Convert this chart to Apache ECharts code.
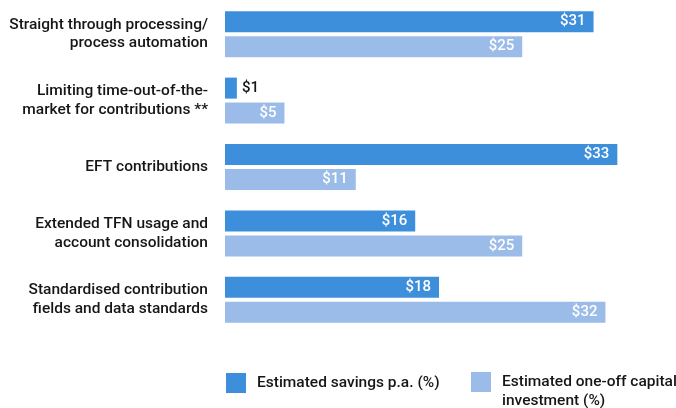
<!DOCTYPE html>
<html><head><meta charset="utf-8">
<script src="https://cdn.jsdelivr.net/npm/echarts@6/dist/echarts.min.js"></script>
<style>html,body{margin:0;padding:0;background:#fff}#c{width:676px;height:408px}</style>
</head><body><div id="c"></div>
<script>
var categories = [
  "Straight through processing/\nprocess automation",
  "Limiting time-out-of-the-\nmarket for contributions **",
  "EFT contributions",
  "Extended TFN usage and\naccount consolidation",
  "Standardised contribution\nfields and data standards"
];
var seriesNames = ["Estimated savings p.a. (%)", "Estimated one-off capital investment (%)"];
var legendLines = ["Estimated one-off capital", "investment (%)"];
var savings = [31, 1, 33, 16, 18];
var investment = [25, 5, 11, 25, 32];
var colors = ["#3d8fdc", "#9bbbe8"];

var font = "Roboto";
var textColor = "#161616";
function mkData(arr) {
  return arr.map(function (v) {
    if (v < 3) return { value: v, label: { position: "right", color: textColor, distance: 5 } };
    return v;
  });
}
var chart = echarts.init(document.getElementById("c"));
chart.setOption({
  animation: false,
  grid: { left: 225, right: 23, top: 1, height: 332 },
  xAxis: { type: "value", min: 0, max: 36, show: false },
  yAxis: {
    type: "category", data: categories, inverse: true,
    axisLine: { show: false }, axisTick: { show: false },
    axisLabel: { margin: 17, fontFamily: font, fontSize: 15.5, fontWeight: 500, color: textColor, lineHeight: 18.5, align: "right", padding: [4, 0, 0, 0] }
  },
  legend: [{
    data: [seriesNames[0]], left: 226, top: 373, padding: 0, itemWidth: 20, itemHeight: 20, icon: "rect",
    textStyle: { fontFamily: font, fontSize: 15.5, fontWeight: 500, color: textColor, padding: [0, 0, 0, 6] }
  }, {
    data: [seriesNames[1]], left: 471, top: 372, padding: 0, itemWidth: 20, itemHeight: 20, icon: "rect",
    formatter: function () { return legendLines[0]; },
    textStyle: { fontFamily: font, fontSize: 15.5, fontWeight: 500, color: textColor, padding: [0, 0, 0, 6] }
  }],
  graphic: [{
    type: "text", left: 502, top: 393,
    style: { text: legendLines[1], font: "500 15.5px Roboto", fill: textColor }
  }],
  series: [{
    name: seriesNames[0], type: "bar", data: mkData(savings), barWidth: 21, barGap: "19%",
    itemStyle: { color: colors[0] },
    label: { show: true, position: "insideRight", distance: 8, color: "#fff", fontFamily: font, fontSize: 15, fontWeight: 500, formatter: "${c}" }
  }, {
    name: seriesNames[1], type: "bar", data: mkData(investment), barWidth: 21,
    itemStyle: { color: colors[1] },
    label: { show: true, position: "insideRight", distance: 8, color: "#fff", fontFamily: font, fontSize: 15, fontWeight: 500, formatter: "${c}" }
  }]
});
</script></body></html>
